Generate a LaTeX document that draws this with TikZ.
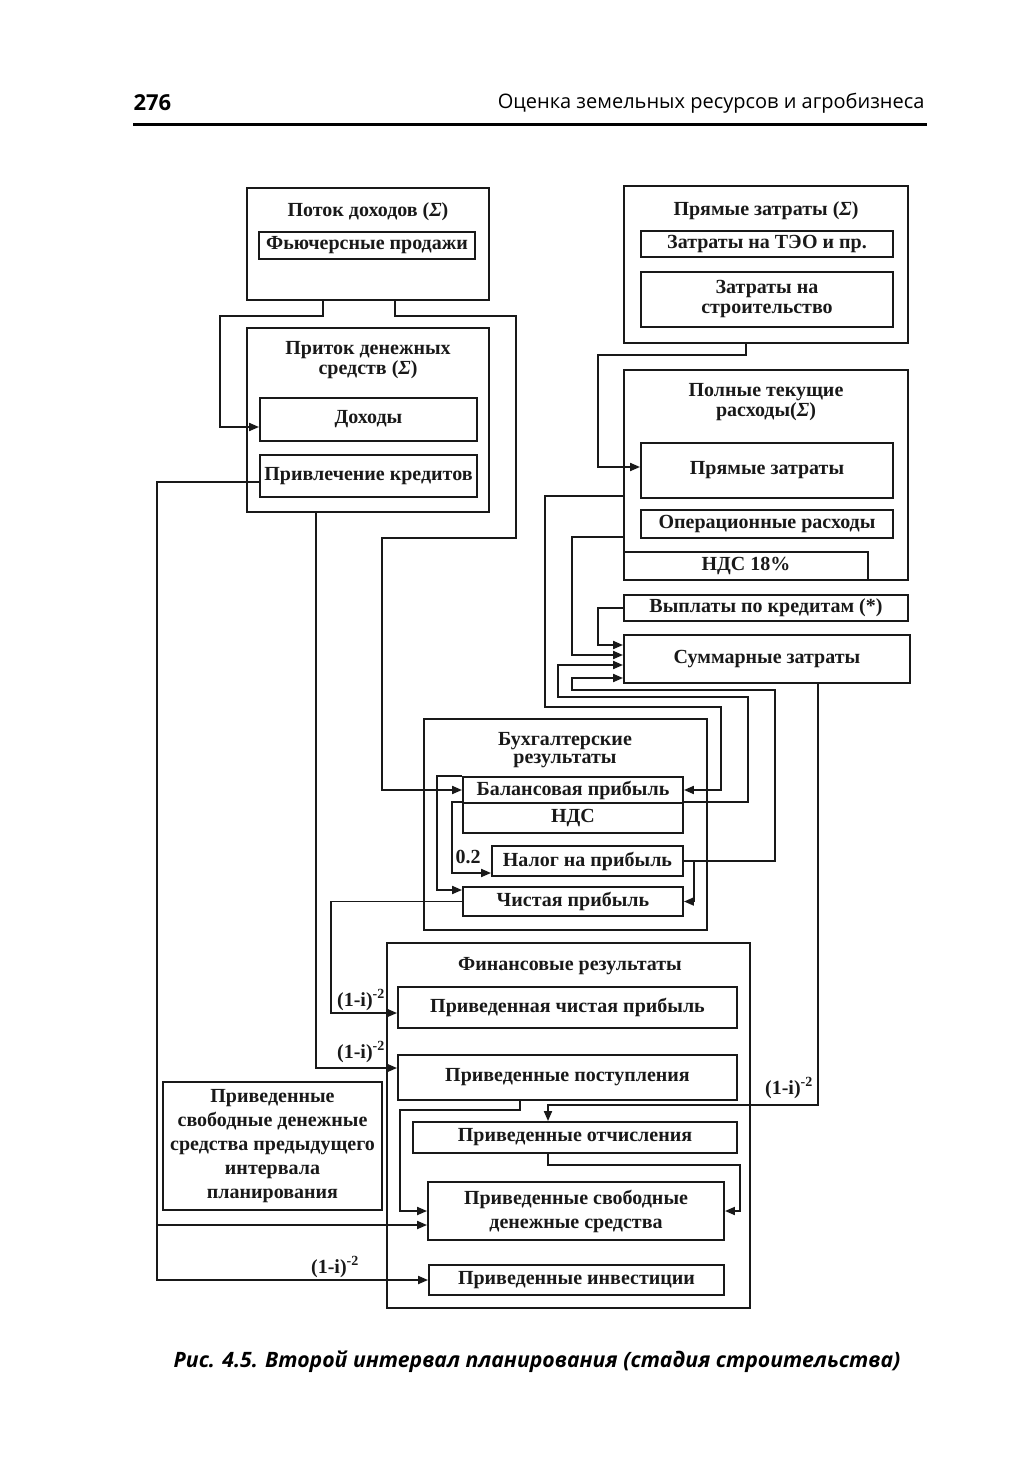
\documentclass[tikz,border=0pt]{standalone}
\usepackage{fontspec}
\setmainfont{Liberation Serif}
\newfontfamily\headfont{Open Sans}
\usepackage{tikz}
\usetikzlibrary{arrows.meta, positioning, calc}
\definecolor{myink}{RGB}{25,25,25}
\newcommand{\blockfont}{\fontsize{20}{23}\selectfont\bfseries}
\newcommand{\tightfont}{\fontsize{20}{20}\selectfont\bfseries}
\tikzset{
  block/.style={rectangle, draw=myink, line width=1.9pt, inner sep=0pt,
    align=center, font=\blockfont, text=myink},
  frame/.style={rectangle, draw=myink, line width=1.9pt, inner sep=0pt},
  caption/.style={align=center, font=\blockfont, text=myink, inner sep=1pt},
  arrow/.style={-{Triangle[length=10pt,width=8pt]}, line width=1.9pt, color=myink},
  line/.style={line width=1.9pt, color=myink}
}

\begin{document}
\begin{tikzpicture}[x=1pt, y=-1pt, font=\blockfont]
  \useasboundingbox (0,0) rectangle (1033,1480);

  % page head and caption
  \node[anchor=west, font={\headfont\bfseries\fontsize{22}{26}\selectfont}] (pagenum) at (130,103) {276};
  \node[anchor=east, font={\headfont\fontsize{20}{24}\selectfont}] (runhead) at (928,103) {Оценка земельных ресурсов и агробизнеса};
  \draw[line width=3pt] (133,124) -- (927,124);
  \node[font={\headfont\bfseries\itshape\fontsize{21.2}{25}\selectfont}] (figcap) at (537,1362) {Рис. 4.5. Второй интервал планирования (стадия строительства)};

  % income side
  \node[frame, minimum width=242pt, minimum height=112pt] (potok) at (368,244) {};
  \node[caption] (potoktitle) at (368,212) {Поток доходов ({\itshape Σ})};
  \node[block, minimum width=216pt, minimum height=27pt] (futures) at (367,245.5) {Фьючерсные продажи};

  \node[frame, minimum width=242pt, minimum height=184pt] (pritok) at (368,420) {};
  \node[caption, font=\tightfont] (pritoktitle) at (368,360) {Приток денежных\\средств ({\itshape Σ})};
  \node[block, minimum width=217pt, minimum height=43pt] (dohody) at (368.5,419.5) {Доходы};
  \node[block, minimum width=217pt, minimum height=42pt] (kredity) at (368.5,476) {Привлечение кредитов};

  % cost side
  \node[frame, minimum width=284pt, minimum height=157pt] (pryamye) at (766,264.5) {};
  \node[caption] (pryamyetitle) at (766,211) {Прямые затраты ({\itshape Σ})};
  \node[block, minimum width=252pt, minimum height=26pt] (teo) at (767,244) {Затраты на ТЭО и пр.};
  \node[block, minimum width=252pt, minimum height=55pt, font=\tightfont] (stroit) at (767,299.5) {Затраты на\\строительство};

  \node[frame, minimum width=284pt, minimum height=210pt] (polnye) at (766,475) {};
  \node[caption, font=\tightfont] (polnyetitle) at (766,402) {Полные текущие\\расходы({\itshape Σ})};
  \node[block, minimum width=252pt, minimum height=55pt] (pryamye2) at (767,470.5) {Прямые затраты};
  \node[block, minimum width=252pt, minimum height=28pt] (oper) at (767,524) {Операционные расходы};
  \node[block, minimum width=244pt, minimum height=28pt] (nds18) at (746,566) {НДС 18\%};

  \node[block, minimum width=284pt, minimum height=26pt] (vyplaty) at (766,608) {Выплаты по кредитам (*)};
  \node[block, minimum width=286pt, minimum height=48pt] (summarnye) at (767,659) {Суммарные затраты};

  % accounting results
  \node[frame, minimum width=283pt, minimum height=211pt] (buh) at (565.5,824.5) {};
  \node[caption, font={\fontsize{20}{18}\selectfont\bfseries}] (buhtitle) at (565,750) {Бухгалтерские\\результаты};
  \node[block, minimum width=220pt, minimum height=26pt] (balans) at (573,790) {Балансовая прибыль};
  \node[block, minimum width=220pt, minimum height=30pt] (nds) at (573,818) {НДС};
  \node[block, minimum width=191pt, minimum height=30pt] (nalog) at (587.5,861) {Налог на прибыль};
  \node[block, minimum width=220pt, minimum height=29pt] (chistaya) at (573,901.5) {Чистая прибыль};
  \node[caption] (rate) at (468,857) {0.2};

  % financial results
  \node[frame, minimum width=363pt, minimum height=365pt] (fin) at (568.5,1125.5) {};
  \node[caption] (fintitle) at (570,966) {Финансовые результаты};
  \node[block, minimum width=339pt, minimum height=41pt] (pchp) at (567.5,1007.5) {Приведенная чистая прибыль};
  \node[block, minimum width=339pt, minimum height=45pt] (ppost) at (567.5,1077.5) {Приведенные поступления};
  \node[block, minimum width=324pt, minimum height=31pt] (potch) at (575,1137.5) {Приведенные отчисления};
  \node[block, minimum width=296pt, minimum height=58pt, font={\fontsize{20}{24}\selectfont\bfseries}] (psds) at (576,1211) {Приведенные свободные\\денежные средства};
  \node[block, minimum width=295pt, minimum height=30pt] (pinv) at (576.5,1280) {Приведенные инвестиции};

  \node[block, minimum width=219pt, minimum height=128pt, font={\fontsize{20}{24}\selectfont\bfseries}] (prev) at (272.5,1146) {Приведенные\\свободные денежные\\средства предыдущего\\интервала\\планирования};

  % discount labels
  \node[caption] (disc1) at (361,1000) {(1-i)\textsuperscript{-2}};
  \node[caption] (disc2) at (361,1052) {(1-i)\textsuperscript{-2}};
  \node[caption] (disc3) at (789,1088) {(1-i)\textsuperscript{-2}};
  \node[caption] (disc4) at (335,1267) {(1-i)\textsuperscript{-2}};

  % connectors
  \draw[arrow] ([xshift=-45pt]potok.south) |- (220,316) |- ([yshift=-7.5pt]dohody.west);
  \draw[arrow] ([xshift=27pt]potok.south) |- (516,316) |- (382,538) |- (balans.west);
  \draw[arrow] ([yshift=-6pt]kredity.west) -| (157,1280) -- (pinv.west);
  \coordinate (credjoin) at (157,1225);
  \draw[arrow] (credjoin) -- (credjoin -| psds.west);
  \draw[arrow] ([xshift=-52pt]pritok.south) |- ([yshift=9.5pt]ppost.west);
  \draw[arrow] (chistaya.west) -| (331,1013) -- ([yshift=-5.5pt]pchp.west);

  \draw[arrow] ([xshift=-20pt]pryamye.south) |- (598,355) |- ([yshift=3.5pt]pryamye2.west);
  \draw[arrow] ([yshift=-21pt]polnye.west) -| (545,707) -| ([xshift=37pt]balans.east) -- (balans.east);
  \draw[arrow] ([yshift=-62pt]polnye.west) -| (572,655) -- ([yshift=4pt]summarnye.west);
  \draw[arrow] (vyplaty.west) -| (598,645) -- ([yshift=14pt]summarnye.west);
  \draw[arrow] (nds.north east) -| (748,697) -| (558,665) -- ([yshift=-6pt]summarnye.west);
  \draw[arrow] (nalog.east) -| (775,690) -| (572,678) -- ([yshift=-19pt]summarnye.west);

  \draw[arrow] (nds.north west) -| (452,873) -- ([yshift=-12pt]nalog.west);
  \draw[arrow] (nalog.east) -| ([xshift=10pt]chistaya.east) -- (chistaya.east);
  \draw[arrow] (balans.north west) -| (437,890) -- ([yshift=11.5pt]chistaya.west);

  \draw[arrow] ([xshift=51pt]summarnye.south) |- (548,1105) -- ([xshift=-27pt]potch.north);
  \draw[arrow] ([xshift=-47.5pt]ppost.south) |- (400,1110) |- (psds.west);
  \draw[arrow] ([xshift=-27pt]potch.south) |- (740,1165) |- (psds.east);
\end{tikzpicture}
\end{document}
